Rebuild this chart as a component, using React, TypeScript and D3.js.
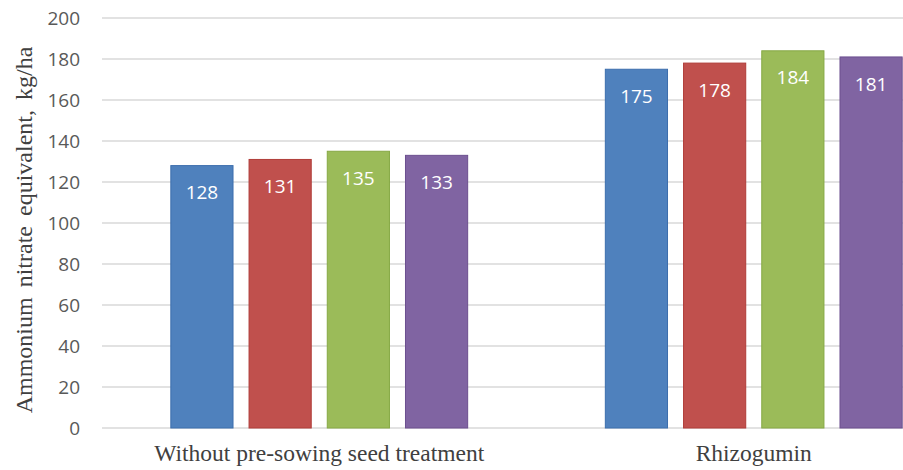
import React from 'react';
import * as d3 from 'd3';

const categories = ['Without pre-sowing seed treatment', 'Rhizogumin'];
const seriesNames = ['Variant 1', 'Variant 2', 'Variant 3', 'Variant 4'];
const seriesValues: number[][] = [
  [128, 175],
  [131, 178],
  [135, 184],
  [133, 181],
];
const yTicks = [0, 20, 40, 60, 80, 100, 120, 140, 160, 180, 200];
const colors = ['#4F81BD', '#C0504D', '#9BBB59', '#8064A2'];
const borders = ['#3C6EAD', '#B03C39', '#86A844', '#6C4F8F'];

const W = 903;
const H = 470;
// plot area runs past the right edge: the original picture is cropped there
const margin = { top: 18, right: -68, bottom: 42, left: 102 };
const serif = "'Liberation Serif', 'Times New Roman', serif";
const sans = "'Open Sans', sans-serif";

export default function App() {
  const innerBottom = H - margin.bottom;
  const plotRight = W - margin.right;

  const x = d3.scaleBand<string>().domain(categories).range([margin.left, plotRight]);
  const xs = d3
    .scaleBand<string>()
    .domain(seriesNames)
    .range([0, x.bandwidth()])
    .paddingInner(0.205)
    .paddingOuter(0.88);
  const y = d3.scaleLinear().domain([0, 200]).range([innerBottom, margin.top]);

  return (
    <svg
      width={W}
      height={H}
      style={{ position: 'absolute', left: 0, top: 0, display: 'block', background: '#fff' }}
    >
      {/* grid */}
      <g>
        {yTicks.map((t) => (
          <line
            key={t}
            x1={margin.left}
            x2={plotRight}
            y1={y(t)}
            y2={y(t)}
            stroke="#D9D9D9"
            strokeWidth={1.5}
          />
        ))}
      </g>
      {/* y tick labels */}
      <g fontFamily={sans} fontSize={19} fill="#595959" textAnchor="end">
        {yTicks.map((t) => (
          <text key={t} x={80} y={y(t)} dy="0.35em">
            {t}
          </text>
        ))}
      </g>
      {/* bars */}
      {categories.map((c, ci) => (
        <g key={c} transform={`translate(${x(c)},0)`}>
          {seriesNames.map((s, si) => {
            const v = seriesValues[si][ci];
            const bx = xs(s) as number;
            return (
              <g key={s}>
                <rect
                  x={bx}
                  y={y(v)}
                  width={xs.bandwidth()}
                  height={innerBottom - y(v)}
                  fill={colors[si]}
                  stroke={borders[si]}
                  strokeWidth={1}
                />
                <text
                  x={bx + xs.bandwidth() / 2}
                  y={y(v) + 27}
                  dy="0.35em"
                  textAnchor="middle"
                  fontFamily={sans}
                  fontSize={19}
                  fill="#fff"
                >
                  {v}
                </text>
              </g>
            );
          })}
        </g>
      ))}
      {/* x labels */}
      <g fontFamily={serif} fontSize={23.5} fill="#404040" textAnchor="middle">
        {categories.map((c) => (
          <text key={c} x={(x(c) as number) + x.bandwidth() / 2} y={461}>
            {c}
          </text>
        ))}
      </g>
      {/* y axis title */}
      <text
        transform={`translate(32,230) rotate(-90)`}
        textAnchor="middle"
        fontFamily={serif}
        fontSize={24}
        wordSpacing={4}
        fill="#404040"
      >
        Ammonium nitrate equivalent, kg/ha
      </text>
    </svg>
  );
}
